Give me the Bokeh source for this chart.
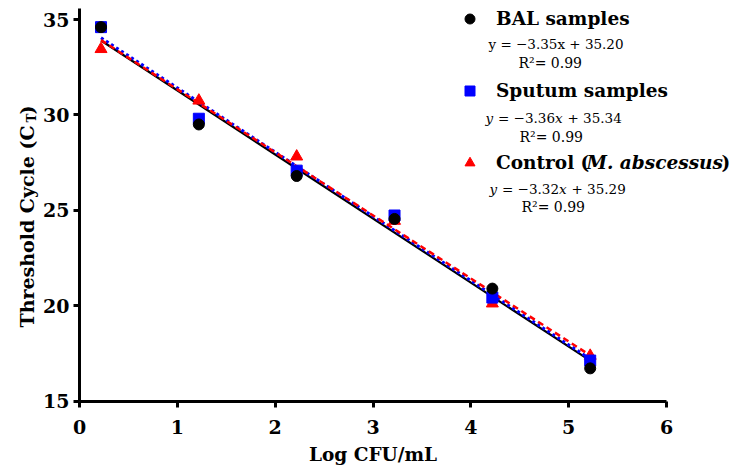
import numpy as np
from bokeh.plotting import figure
from bokeh.models import Label, Range1d, FixedTicker, Legend, LegendItem
from bokeh.embed import file_html
from bokeh.resources import INLINE

# ---------------- data ----------------
log_cfu = [0.22, 1.22, 2.22, 3.22, 4.22, 5.22]
bal_ct = [34.6, 29.5, 26.8, 24.55, 20.9, 16.72]
sputum_ct = [34.6, 29.8, 27.08, 24.73, 20.43, 17.13]
control_ct = [33.45, 30.75, 27.82, 24.45, 20.12, 17.38]

x_ticks = [0, 1, 2, 3, 4, 5, 6]
y_ticks = [15, 20, 25, 30, 35]

series_names = ["BAL samples", "Sputum samples", "Control ("]
equations = ["y = \u22123.35x + 35.20", "y = \u22123.36x + 35.34", "y = \u22123.32x + 35.29"]
r2_texts = ["R\u00b2= 0.99", "R\u00b2= 0.99", "R\u00b2= 0.99"]

FONT = "DejaVu Serif"
W, H = 735, 476

# page pixel positions of the axis ends (layout)
PX_L, PX_R = 79.0, 666.0      # x = 0 and x = 6
PY_35, PY_15 = 19.0, 400.7    # y = 35 and y = 15
XPP = 6.0 / (PX_R - PX_L)
YPP = 20.0 / (PY_15 - PY_35)
def dx(px):
    return (px - PX_L) * XPP
def dy(py):
    return 35 - (py - PY_35) * YPP

# ---------------- figure (frame covers the whole canvas) ----------------
p = figure(width=W, height=H, x_range=Range1d(dx(0), dx(W)), y_range=Range1d(dy(H), dy(0)),
           output_backend="svg", toolbar_location=None,
           min_border_left=0, min_border_right=0, min_border_top=0, min_border_bottom=0)
p.grid.visible = False
p.outline_line_color = None
p.background_fill_color = "white"
p.border_fill_color = "white"

for ax in (p.xaxis[0], p.yaxis[0]):
    ax.axis_line_width = 3
    ax.axis_line_color = "black"
    ax.major_tick_line_width = 3
    ax.major_tick_line_color = "black"
    ax.major_tick_out = 6
    ax.major_tick_in = 0
    ax.minor_tick_line_color = None
    ax.major_label_text_font = FONT
    ax.major_label_text_font_style = "bold"
    ax.major_label_text_font_size = "19px"
    ax.major_label_text_color = "black"

p.xaxis.fixed_location = 15
p.yaxis.fixed_location = 0
p.xaxis.bounds = (0, 6)
p.yaxis.bounds = (15, dy(8))
p.xaxis.ticker = FixedTicker(ticks=x_ticks)
p.yaxis.ticker = FixedTicker(ticks=y_ticks)
p.xaxis.major_label_standoff = 13
p.yaxis.major_label_standoff = 4
p.xaxis.axis_label = "Log CFU/mL"
p.xaxis.axis_label_text_font = FONT
p.xaxis.axis_label_text_font_style = "bold"
p.xaxis.axis_label_text_font_size = "18.5px"
p.xaxis.axis_label_text_color = "black"
p.xaxis.axis_label_standoff = 6

# ---------------- regression lines ----------------
xs = np.array(log_cfu)
line_x = [xs.min(), xs.max()]
def fit(ys):
    m, b = np.polyfit(xs, np.array(ys), 1)
    return [m * v + b for v in line_x]

p.line(line_x, fit(bal_ct), line_color="black", line_width=2.2)
p.line(line_x, fit(sputum_ct), line_color="#0000ff", line_width=3, line_dash="3 3")
p.line(line_x, fit(control_ct), line_color="#ff0000", line_width=2.5, line_dash="6 4")

# ---------------- points ----------------
r_ctrl = p.scatter(log_cfu, control_ct, marker="triangle", size=12, fill_color="#ff0000", line_color="#ff0000")
r_sput = p.scatter(log_cfu, sputum_ct, marker="square", size=11, fill_color="#0000ff", line_color="#0000ff")
r_bal = p.scatter(log_cfu, bal_ct, marker="circle", size=11, fill_color="black", line_color="black")

# ---------------- legend ----------------
legend = Legend(items=[LegendItem(label=series_names[0], renderers=[r_bal]),
                       LegendItem(label=series_names[1], renderers=[r_sput]),
                       LegendItem(label=series_names[2], renderers=[r_ctrl])],
                location=(457, 301), orientation="vertical",
                glyph_width=25, glyph_height=25, label_height=25,
                spacing=47, padding=0, margin=0, label_standoff=14,
                border_line_color=None, background_fill_alpha=0,
                label_text_font=FONT, label_text_font_style="bold",
                label_text_font_size="18.5px", label_text_color="black")
p.add_layout(legend)

def lab(text, px, py, size, style="normal", align="left", angle=0.0, baseline="middle"):
    p.add_layout(Label(x=dx(px), y=dy(py), text=text, text_font=FONT, text_font_style=style,
                       text_font_size=size, text_color="black", text_align=align,
                       text_baseline=baseline, angle=angle))

# Control title continuation
lab("M. abscessus", 586, 162, "18.5px", "bold italic")
lab(")", 721, 162, "18.5px", "bold")

EQ = "13.5px"
lab(equations[0], 488, 43, EQ)
def eq_italic(eq, sx, py):
    parts = eq.split(" ")  # ['y', '=', '−3.36x', '+', '35.34']
    lab("y", sx, py, EQ, "italic")
    lab("= " + parts[2][:-1], sx + 12.5, py, EQ)
    lab("x", sx + 12.5 + 57, py, EQ, "italic")
    lab("+ " + parts[4], sx + 12.5 + 57 + 12.5, py, EQ)
eq_italic(equations[1], 485, 117)
eq_italic(equations[2], 489, 188)

lab(r2_texts[0], 518, 62, "14px")
lab(r2_texts[1], 519, 136, "14px")
lab(r2_texts[2], 521, 206, "14px")

# y-axis label with subscript
lab("Threshold Cycle (C", 26, 327, "19px", "bold", angle=np.pi / 2)
lab("T", 31, 122, "12px", "bold", angle=np.pi / 2)
lab(")", 26, 114, "19px", "bold", angle=np.pi / 2)

open("out.html", "w").write(file_html(p, INLINE))
